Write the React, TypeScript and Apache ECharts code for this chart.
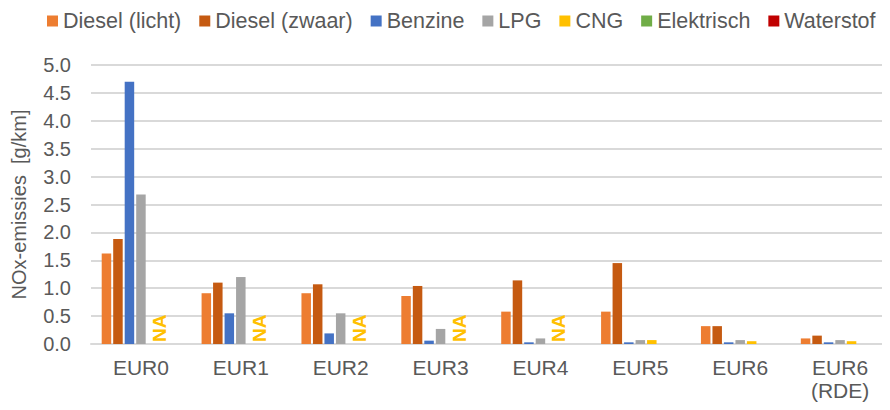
import React, { useEffect, useRef } from "react";
import * as echarts from "echarts";

const categories = ["EUR0", "EUR1", "EUR2", "EUR3", "EUR4", "EUR5", "EUR6", "EUR6\n(RDE)"];
const dieselLicht = [1.62, 0.91, 0.91, 0.86, 0.58, 0.58, 0.32, 0.1];
const dieselZwaar = [1.88, 1.1, 1.07, 1.04, 1.14, 1.45, 0.32, 0.15];
const benzine = [4.7, 0.55, 0.19, 0.06, 0.03, 0.03, 0.03, 0.03];
const lpg = [2.68, 1.2, 0.55, 0.27, 0.1, 0.07, 0.07, 0.07];
const cng: (number | null)[] = [null, null, null, null, null, 0.07, 0.05, 0.05];
const cngNA = [true, true, true, true, true, false, false, false];
const elektrisch: (number | null)[] = [null, null, null, null, null, null, null, null];
const waterstof: (number | null)[] = [null, null, null, null, null, null, null, null];
const yTicks = { min: 0, max: 5, interval: 0.5 };

const FONT = "Liberation Sans";
const TEXT = "#595959";

export default function App() {
  const ref = useRef<HTMLDivElement>(null);
  useEffect(() => {
    if (!ref.current) return;
    const chart = echarts.init(ref.current, undefined, { renderer: "svg" });
    const cngData = cng.map((v, i) =>
      cngNA[i]
        ? {
            value: 0,
            label: {
              show: true,
              formatter: "NA",
              position: "insideBottom",
              rotate: 90,
              align: "left",
              verticalAlign: "middle",
              distance: 2,
              offset: [0, 7],
              color: "#FFC000",
              fontWeight: "bold",
              fontSize: 19,
              fontFamily: FONT,
            },
          }
        : v
    );
    const mk = (name: string, color: string, data: any[]) => ({
      name,
      type: "bar",
      data,
      barWidth: 9.5,
      barGap: "21%",
      itemStyle: { color },
    });
    chart.setOption({
      animation: false,
      textStyle: { fontFamily: FONT },
      legend: {
        top: 5,
        left: 42,
        itemWidth: 11,
        itemHeight: 11,
        itemGap: 18,
        icon: "rect",
        textStyle: { color: TEXT, fontSize: 21.5, fontFamily: FONT, lineHeight: 22 },
      },
      grid: { left: 91, top: 65, bottom: 66, width: 801.6 },
      xAxis: {
        type: "category",
        data: categories,
        axisLine: { lineStyle: { color: "#d9d9d9", width: 2 } },
        axisTick: { show: false },
        axisLabel: { color: TEXT, fontSize: 21, fontFamily: FONT, margin: 12, lineHeight: 23 },
      },
      yAxis: {
        type: "value",
        min: yTicks.min,
        max: yTicks.max,
        interval: yTicks.interval,
        name: "NOx-emissies  [g/km]",
        nameLocation: "middle",
        nameGap: 62,
        nameTextStyle: { color: TEXT, fontSize: 20, fontFamily: FONT },
        axisLabel: {
          color: TEXT,
          fontSize: 20,
          fontFamily: FONT,
          margin: 20,
          formatter: (v: number) => v.toFixed(1),
        },
        splitLine: { lineStyle: { color: "#d9d9d9", width: 2 } },
        axisLine: { show: false },
        axisTick: { show: false },
      },
      series: [
        mk("Diesel (licht)", "#ED7D31", dieselLicht),
        mk("Diesel (zwaar)", "#C55A11", dieselZwaar),
        mk("Benzine", "#4472C4", benzine),
        mk("LPG", "#A5A5A5", lpg),
        mk("CNG", "#FFC000", cngData),
        mk("Elektrisch", "#70AD47", elektrisch),
        mk("Waterstof", "#C00000", waterstof),
      ],
    });
    return () => chart.dispose();
  }, []);
  return <div ref={ref} style={{ width: 890, height: 410, margin: -8 }} />;
}
